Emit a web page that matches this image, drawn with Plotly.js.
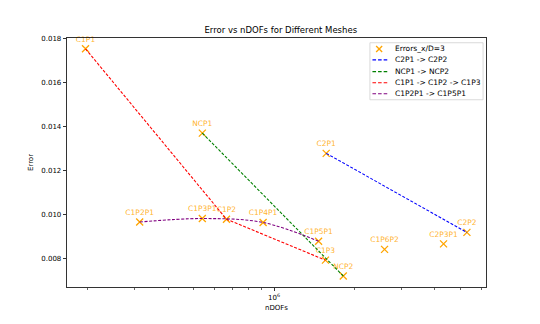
<!DOCTYPE html>
<html>
<head>
<meta charset="utf-8">
<script src="https://cdn.plot.ly/plotly-3.0.1.min.js"></script>
<style>
  html, body { margin: 0; padding: 0; background: #fff; }
  #chart { width: 540px; height: 324px; }
</style>
</head>
<body>
<div id="chart"></div>
<script>
// mesh results
const meshNames = ["C1P1", "C1P2", "C1P3", "NCP1", "NCP2", "C2P1", "C2P2",
                   "C1P2P1", "C1P3P1", "C1P4P1", "C1P5P1", "C1P6P2", "C2P3P1"];
const meshDofs = [1.96e5, 6.63e5, 1.56e6, 5.38e5, 1.82e6, 1.57e6, 5.3e6,
                  3.13e5, 5.38e5, 9.1e5, 1.47e6, 2.6e6, 4.33e6];
const meshErrors = [0.01754, 0.00980, 0.00794, 0.01371, 0.00722, 0.01279, 0.00920,
                    0.00967, 0.00983, 0.00965, 0.00880, 0.00843, 0.00868];

// refinement paths (mesh names, in order)
const pathC2 = ["C2P1", "C2P2"];
const pathNC = ["NCP1", "NCP2"];
const pathC1 = ["C1P1", "C1P2", "C1P3"];
const pathC1P = ["C1P2P1", "C1P3P1", "C1P4P1", "C1P5P1"];

const seriesLabels = ["Errors_x/D=3", "C2P1 -> C2P2", "NCP1 -> NCP2",
                      "C1P1 -> C1P2 -> C1P3", "C1P2P1 -> C1P5P1"];
const seriesColors = ["#ffa500", "#0000ff", "#008000", "#ff0000", "#800080"];

const yTicks = [0.008, 0.010, 0.012, 0.014, 0.016, 0.018];
const xMinorTicks = [2e5, 3e5, 4e5, 5e5, 6e5, 7e5, 8e5, 9e5, 2e6, 3e6, 4e6, 5e6, 6e6];

function pick(names) {
    const idx = names.map(n => meshNames.indexOf(n));
    return { x: idx.map(i => meshDofs[i]), y: idx.map(i => meshErrors[i]) };
}

const font = "DejaVu Sans, sans-serif";
const dashStyle = "3px,1.6px";

function pathTrace(names, k, shape) {
    const p = pick(names);
    return {
        x: p.x, y: p.y, name: seriesLabels[k], type: "scatter", mode: "lines",
        line: { color: seriesColors[k], width: 1.1, dash: dashStyle, shape: shape || "linear", smoothing: 1 },
        hoverinfo: "skip"
    };
}

var points = {
    x: meshDofs, y: meshErrors, text: meshNames,
    name: seriesLabels[0], type: "scatter", mode: "markers+text",
    textposition: "top center", cliponaxis: false,
    textfont: { family: font, size: 7.5, color: "rgba(255,165,0,0.85)" },
    marker: { symbol: "x-thin", size: 7, color: "#ffa500", line: { color: "#ffa500", width: 1.3 } }
};

const data = [
    points,
    pathTrace(pathC2, 1),
    pathTrace(pathNC, 2),
    pathTrace(pathC1, 3),
    pathTrace(pathC1P, 4, "spline")
];

// hand-built legend box (matplotlib style, tighter than plotly's own legend)
const shapes = [{
    type: "rect", xref: "paper", yref: "paper",
    x0: 0.723, x1: 0.993, y0: 0.752, y1: 0.981,
    line: { color: "#d0d0d0", width: 0.8 }, fillcolor: "rgba(255,255,255,0.8)", layer: "above"
}];
const annotations = [];
const rowY = [0.956, 0.912, 0.865, 0.820, 0.776];
seriesLabels.forEach((label, k) => {
    if (k === 0) {
        [[-3, 3, -3, 3], [-3, 3, 3, -3]].forEach(d => shapes.push({
            type: "line", xref: "paper", yref: "paper",
            xsizemode: "pixel", ysizemode: "pixel", xanchor: 0.745, yanchor: rowY[k],
            x0: d[0], x1: d[1], y0: d[2], y1: d[3],
            line: { color: seriesColors[k], width: 1.3 }, layer: "above"
        }));
    } else {
        shapes.push({
            type: "line", xref: "paper", yref: "paper",
            x0: 0.729, x1: 0.768, y0: rowY[k], y1: rowY[k],
            line: { color: seriesColors[k], width: 1.1, dash: "3.6px,2px" }, layer: "above"
        });
    }
    annotations.push({
        xref: "paper", yref: "paper", x: 0.779, y: rowY[k],
        xanchor: "left", yanchor: "middle", showarrow: false,
        text: label, font: { family: font, size: 7.5, color: "#000" }
    });
});

const layout = {
    width: 540, height: 324,
    margin: { l: 67, r: 54, t: 38, b: 37 },
    paper_bgcolor: "#fff", plot_bgcolor: "#fff",
    font: { family: font, size: 7, color: "#000" },
    title: {
        text: "Error vs nDOFs for Different Meshes",
        font: { family: font, size: 8.5, color: "#000" },
        x: 0.52, xanchor: "center", y: 0.906, yanchor: "middle"
    },
    showlegend: false,
    shapes: shapes,
    annotations: annotations,
    xaxis: {
        type: "log",
        range: [Math.log10(1.67e5), Math.log10(6.25e6)],
        tickmode: "array", tickvals: [1e6], ticktext: ["10<sup>6</sup>"],
        ticks: "outside", ticklen: 3.5, tickwidth: 0.8, tickcolor: "#000",
        minor: { tickmode: "array", tickvals: xMinorTicks, ticks: "outside", ticklen: 2, tickwidth: 0.6, tickcolor: "#000", showgrid: false },
        showgrid: false, zeroline: false,
        showline: true, linecolor: "#000", linewidth: 0.8, mirror: true,
        title: { text: "nDOFs", font: { family: font, size: 7 }, standoff: 4 },
        tickfont: { family: font, size: 7 }
    },
    yaxis: {
        range: [0.00672, 0.01803],
        tickmode: "array", tickvals: yTicks, ticktext: yTicks.map(v => v.toFixed(3)),
        ticks: "outside", ticklen: 3.5, tickwidth: 0.8, tickcolor: "#000",
        showgrid: false, zeroline: false,
        showline: true, linecolor: "#000", linewidth: 0.8, mirror: true,
        title: { text: "Error", font: { family: font, size: 7 }, standoff: 6 },
        tickfont: { family: font, size: 7 }
    }
};

Plotly.newPlot("chart", data, layout, { displayModeBar: false, staticPlot: true });
</script>
</body>
</html>
